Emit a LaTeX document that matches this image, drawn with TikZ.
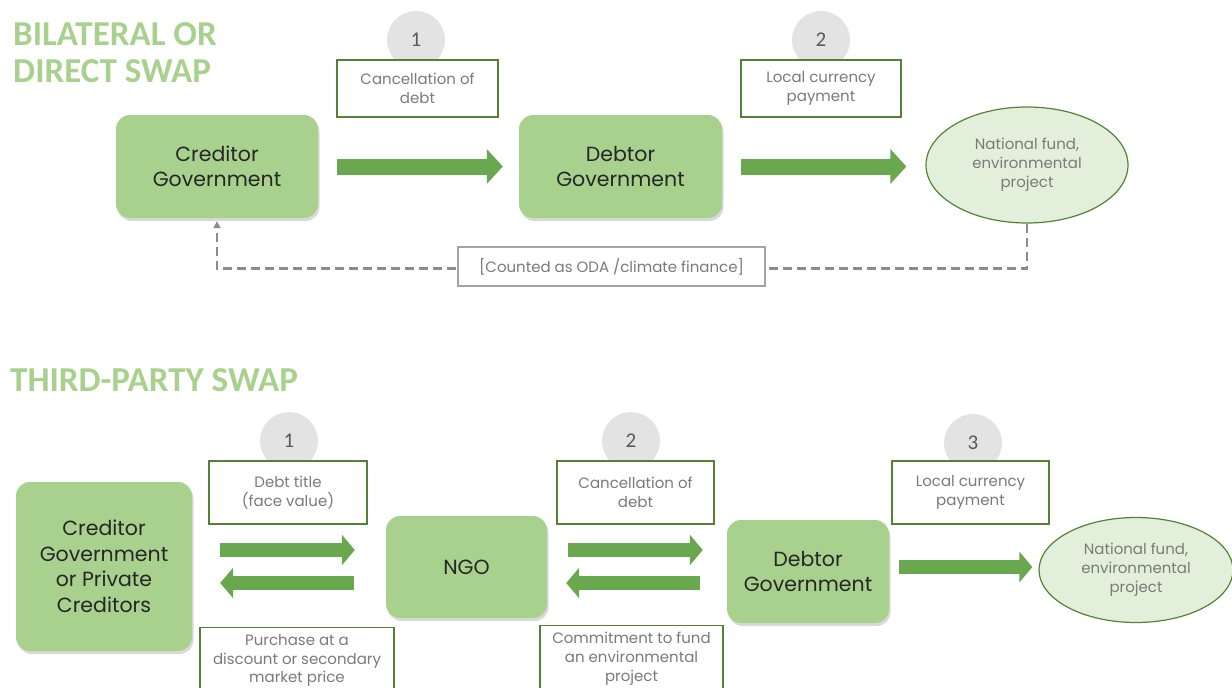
\documentclass[tikz,border=0pt]{standalone}
\usepackage{fontspec}
\setmainfont{Poppins}
\newfontfamily\titlefont{Carlito}
\usetikzlibrary{shapes.geometric,shadows,arrows.meta,calc}
\definecolor{boxgreen}{HTML}{A9D18E}
\definecolor{titlegreen}{HTML}{A9D18E}
\definecolor{arrowgreen}{HTML}{6AA84F}
\definecolor{darkgreen}{HTML}{548235}
\definecolor{fundfill}{HTML}{E2EFDA}
\definecolor{labeltext}{HTML}{7A7A7A}
\definecolor{numgray}{HTML}{595959}
\definecolor{circlegray}{HTML}{E3E3E3}
\definecolor{dashgray}{HTML}{8C8C8C}
\begin{document}
\begin{tikzpicture}[x=1pt,y=-1pt,
  entity/.style={rounded corners=14pt, fill=boxgreen, align=center, text=black!85,
    font=\fontsize{20.5}{25.5}\selectfont,
    drop shadow={shadow xshift=1.5pt, shadow yshift=-3pt, opacity=0.3}},
  fund/.style={ellipse, draw=darkgreen, line width=1.2pt, fill=fundfill, align=center,
    text=labeltext, font=\fontsize{15}{19}\selectfont, inner sep=0pt},
  lab/.style={draw=darkgreen, line width=1.2pt, fill=white, align=center, text=labeltext,
    font=\fontsize{15}{19}\selectfont, inner sep=2pt},
  num/.style={circle, fill=circlegray, minimum size=58pt, text=numgray,
    font=\titlefont\fontsize{21}{21}\selectfont},
  ttl/.style={anchor=base west, text=titlegreen, font=\titlefont\bfseries\fontsize{35}{35}\selectfont, inner sep=0pt},
  bigarrow/.style={draw=arrowgreen, line width=16pt, -{Triangle[length=16pt,width=34pt]}},
  smallarrow/.style={draw=arrowgreen, line width=14.5pt, -{Triangle[length=13pt,width=30pt]}},
  dashline/.style={draw=dashgray, line width=2.5pt, dash pattern=on 9pt off 5pt, -{Triangle[length=7pt,width=7pt]}}
]
\useasboundingbox (0,0) rectangle (1232,688);

% ---------- Bilateral ----------
\node[ttl] (t1a) at (13,45) {BILATERAL OR};
\node[ttl] (t1b) at (13,82) {DIRECT SWAP};

\node[num] (n1) at (416,40) {1};
\node[num] (n2) at (821,40) {2};

\node[lab, minimum width=161pt, minimum height=57pt] (l1) at (417.5,88.5) {Cancellation of\\debt};
\node[lab, minimum width=160pt, minimum height=57pt] (l2) at (821,88.5) {Local currency\\payment};

\node[entity, minimum width=202pt, minimum height=103pt] (cg) at (217,166.5) {Creditor\\Government};
\node[entity, minimum width=203pt, minimum height=103pt] (dg) at (620.5,166.5) {Debtor\\Government};
\node[fund, minimum width=202pt, minimum height=116pt] (f1) at (1027,165) {National fund,\\environmental\\project};

\draw[bigarrow] ([xshift=19pt]cg.east) -- ([xshift=-16pt]dg.west);
\draw[bigarrow] ([xshift=19pt]dg.east) -- ($(f1.west |- dg.east)+(-19,0)$);

\draw[dashline] (f1.south) -- ++(0,45) -| ([yshift=-3pt]cg.south);
\node[draw=dashgray!80, line width=1.5pt, fill=white, text=labeltext,
  font=\fontsize{15}{19}\selectfont, minimum width=307pt, minimum height=39pt] (oda) at (611.5,266.5)
  {[Counted as ODA /climate finance]};

% ---------- Third-party ----------
\node[ttl] (t2) at (10,391) {THIRD-PARTY SWAP};

\node[num] (m1) at (289,441) {1};
\node[num] (m2) at (631,441) {2};
\node[num] (m3) at (973,443) {3};

\node[lab, minimum width=158pt, minimum height=63pt] (k1) at (288,492.5) {Debt title\\(face value)};
\node[lab, minimum width=157pt, minimum height=63pt] (k2) at (635.5,492.5) {Cancellation of\\debt};
\node[lab, minimum width=157pt, minimum height=63pt] (k3) at (970.5,492.5) {Local currency\\payment};
\node[lab, anchor=north, minimum width=194pt, minimum height=66pt,
  font=\fontsize{15}{18.5}\selectfont] (k4) at (297,627) {Purchase at a\\discount or secondary\\market price};
\node[lab, anchor=north, minimum width=183pt, minimum height=66pt] (k5) at (631.5,625) {Commitment to fund\\an environmental\\project};

\node[entity, minimum width=176pt, minimum height=169pt] (cp) at (104,566.5) {Creditor\\Government\\or Private\\Creditors};
\node[entity, minimum width=161pt, minimum height=102pt] (ngo) at (466.5,567) {NGO};
\node[entity, minimum width=162pt, minimum height=103pt] (dg2) at (808,571.5) {Debtor\\Government};
\node[fund, minimum width=194pt, minimum height=105pt] (f2) at (1136,570) {National fund,\\environmental\\project};

\draw[smallarrow] ($(cp.east)+(28,-16.5)$) -- ($(ngo.west)+(-31,-17)$);
\draw[smallarrow] ($(ngo.west)+(-32,16)$) -- ($(cp.east)+(28,16.5)$);
\draw[smallarrow] ($(ngo.east)+(21,-17)$) -- ($(dg2.west)+(-24,-21.5)$);
\draw[smallarrow] ($(dg2.west)+(-27,11.5)$) -- ($(ngo.east)+(19,16)$);
\draw[smallarrow] ($(dg2.east)+(10,-4.5)$) -- ($(f2.west)+(-6,-3)$);
\end{tikzpicture}
\end{document}
